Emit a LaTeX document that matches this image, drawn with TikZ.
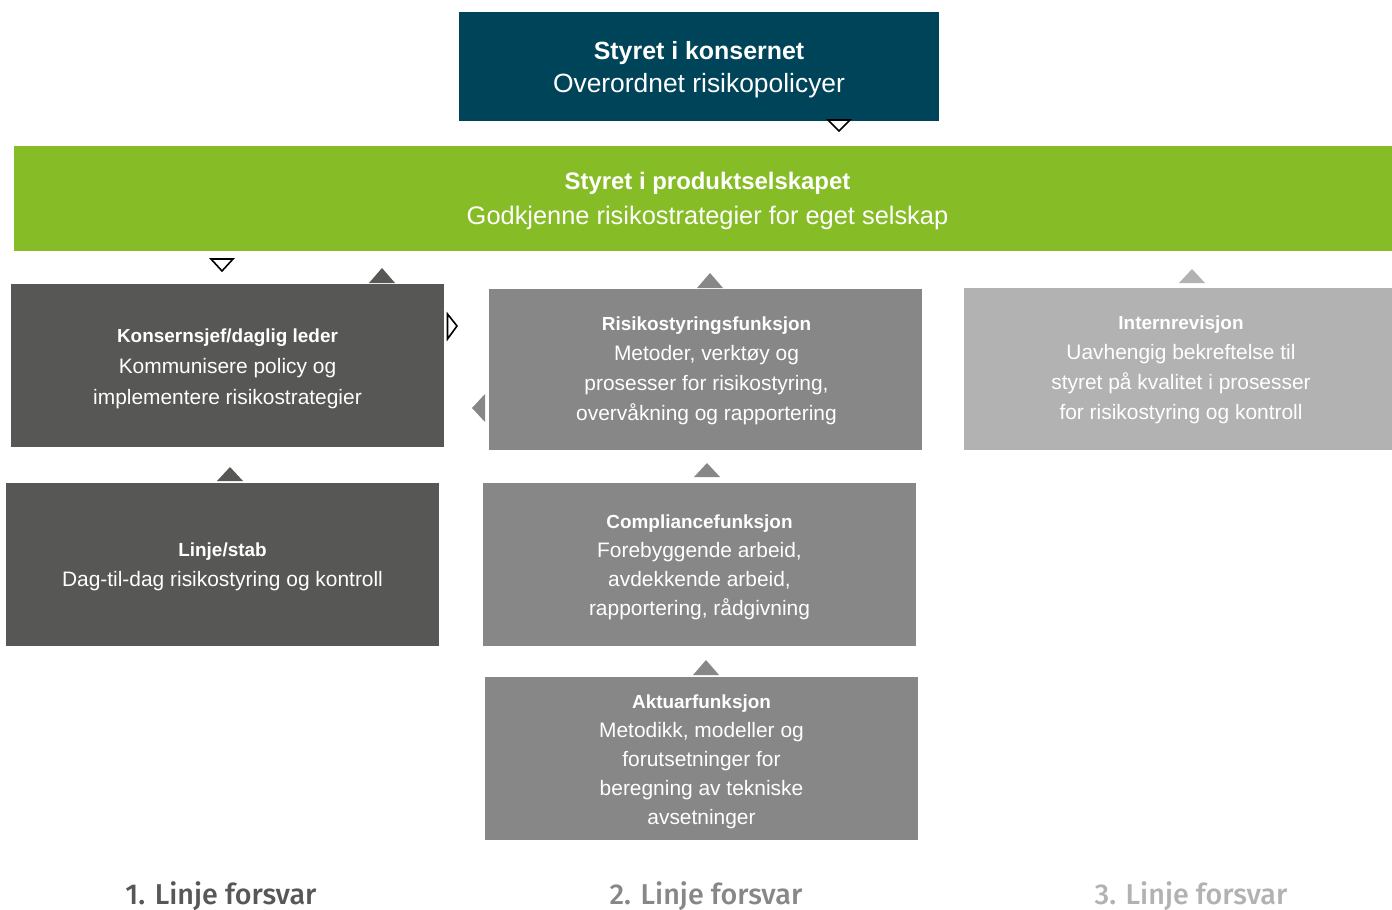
\documentclass[tikz,border=0pt]{standalone}
\usepackage{fontspec}
\setmainfont{Liberation Sans}
\newfontfamily\labelfont{Fira Sans}[UprightFont={* Medium}]
\definecolor{boardteal}{HTML}{00445A}
\definecolor{lime}{HTML}{86BC25}
\definecolor{darkgr}{HTML}{575756}
\definecolor{midgr}{HTML}{878787}
\definecolor{lightgr}{HTML}{B2B2B2}
\newcommand\boxtitle[1]{{\fontsize{19}{30}\selectfont\bfseries #1}}
\newcommand\boardtitle[2][25]{{\fontsize{#1}{32}\selectfont\bfseries #2}}
\tikzset{
  box/.style={rectangle, inner sep=0pt},
  boxtext/.style={inner sep=0pt, text=white, align=center,
    font=\fontsize{21}{30}\selectfont},
  boardtext/.style={boxtext, font=\fontsize{26.5}{33}\selectfont},
  outlinemark/.style={draw=black, fill=white, line width=1.6bp, line join=miter},
  linelabel/.style={font=\labelfont\fontsize{28.8}{34}\selectfont, anchor=base}
}
\begin{document}
\begin{tikzpicture}[x=1bp,y=-1bp]
\useasboundingbox (0,0) rectangle (1392,909);

% boards
\node[box, fill=boardteal, minimum width=480bp, minimum height=109bp,
  label={[boardtext, yshift=-3.5bp]center:{\boardtitle{Styret i konsernet}\\Overordnet risikopolicyer}}]
  (konsern) at (699,66.5) {};
\node[box, fill=lime, minimum width=1378bp, minimum height=105bp,
  label={[boardtext, font=\fontsize{25.5}{35}\selectfont, xshift=4.5bp, yshift=-2.5bp]center:{\boardtitle[24]{Styret i produktselskapet}\\Godkjenne risikostrategier for eget selskap}}]
  (produkt) at (703,198.5) {};

% first line
\node[box, fill=darkgr, minimum width=433bp, minimum height=163bp,
  label={[boxtext, font=\fontsize{21}{31}\selectfont, yshift=-3bp]center:{\boxtitle{Konsernsjef/daglig leder}\\Kommunisere policy og\\implementere risikostrategier}}]
  (ceo) at (227.5,365.5) {};
\node[box, fill=darkgr, minimum width=433bp, minimum height=163bp,
  label={[boxtext, yshift=-2bp]center:{\boxtitle{Linje/stab}\\Dag-til-dag risikostyring og kontroll}}]
  (stab) at (222.5,564.5) {};

% second line
\node[box, fill=midgr, minimum width=433bp, minimum height=161bp,
  label={[boxtext, xshift=1bp, yshift=-1bp]center:{\boxtitle{Risikostyringsfunksjon}\\Metoder, verktøy og\\prosesser for risikostyring,\\overvåkning og rapportering}}]
  (risk) at (705.5,369.5) {};
\node[box, fill=midgr, minimum width=433bp, minimum height=163bp,
  label={[boxtext, font=\fontsize{21}{29}\selectfont, yshift=-3bp]center:{\boxtitle{Compliancefunksjon}\\Forebyggende arbeid,\\avdekkende arbeid,\\rapportering, rådgivning}}]
  (comp) at (699.5,564.5) {};
\node[box, fill=midgr, minimum width=433bp, minimum height=163bp,
  label={[boxtext, font=\fontsize{21}{29}\selectfont, yshift=-3.5bp]center:{\boxtitle{Aktuarfunksjon}\\Metodikk, modeller og\\forutsetninger for\\beregning av tekniske\\avsetninger}}]
  (aktuar) at (701.5,758.5) {};

% third line
\node[box, fill=lightgr, minimum width=428bp, minimum height=162bp,
  label={[boxtext, xshift=3bp, yshift=-0.5bp]center:{\boxtitle{Internrevisjon}\\Uavhengig bekreftelse til\\styret på kvalitet i prosesser\\for risikostyring og kontroll}}]
  (intern) at (1178,369) {};

% outlined markers (downward / rightward flow)
\draw[outlinemark] (828,120) -- (850,120) -- (839,131) -- cycle;
\draw[outlinemark] (211,259) -- (233,259) -- (222,271) -- cycle;
\draw[outlinemark] (447.5,314) -- (457,326) -- (447.5,339) -- cycle;

% solid markers (reporting flow)
\fill[darkgr] (369,283) -- (395,283) -- (382,268) -- cycle;
\fill[darkgr] (217,481) -- (243,481) -- (230,467) -- cycle;
\fill[midgr] (697,288) -- (723,288) -- (710,273) -- cycle;
\fill[midgr] (694,477) -- (720,477) -- (707,463) -- cycle;
\fill[midgr] (693,675) -- (719,675) -- (706,660) -- cycle;
\fill[midgr] (485,394) -- (485,422) -- (472,408) -- cycle;
\fill[lightgr] (1179,283) -- (1205,283) -- (1192,269) -- cycle;

% column captions
\node[linelabel, text=darkgr] (l1) at (221,904) {1. Linje forsvar};
\node[linelabel, text=midgr] (l2) at (706,904) {2. Linje forsvar};
\node[linelabel, text=lightgr] (l3) at (1191,904) {3. Linje forsvar};
\end{tikzpicture}
\end{document}
